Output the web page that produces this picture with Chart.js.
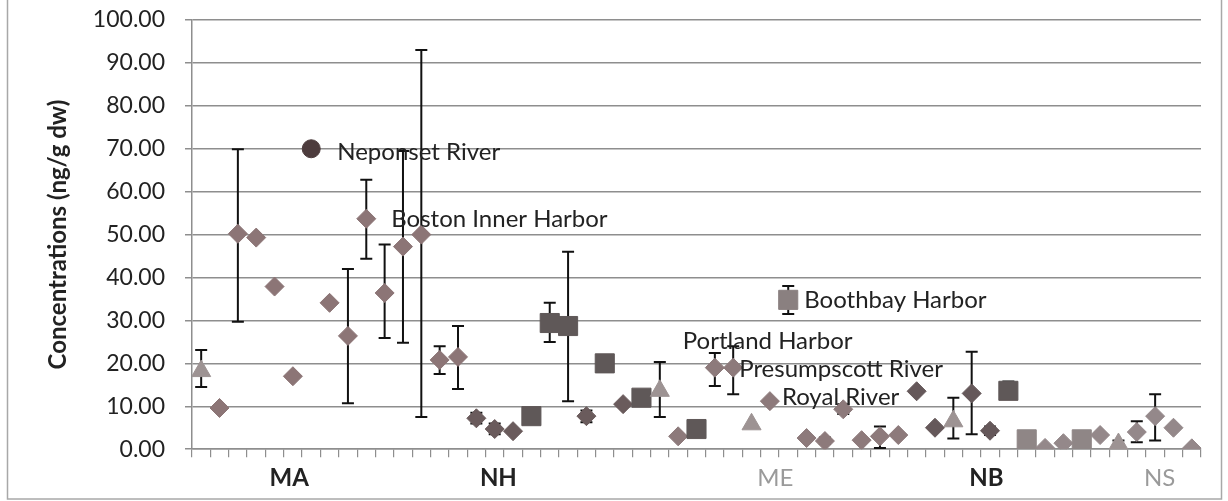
<!DOCTYPE html>
<html>
<head>
<meta charset="utf-8">
<script src="https://cdn.jsdelivr.net/npm/chart.js@4.4.1/dist/chart.umd.min.js"></script>
<style>
  html, body { margin: 0; padding: 0; background: #fff; }
  #wrap { width: 1228px; height: 501px; }
</style>
</head>
<body>
<div id="wrap"><canvas id="chart" width="1228" height="501"></canvas></div>
<script>
// --- data, one entry per sample site, left to right ---
const conc = [18.2, 9.6, 50.2, 49.3, 37.9, 17.0, 70.0, 34.1, 26.4, 53.7,
              36.4, 47.2, 50.0, 20.8, 21.5, 7.2, 4.7, 4.2, 7.7, 29.4,
              28.7, 7.7, 20.0, 10.5, 12.0, 13.6, 3.0, 4.7, 19.0, 19.0,
              5.8, 11.2, 34.8, 2.6, 1.9, 9.3, 2.1, 3.0, 3.3, 13.5,
              5.0, 6.5, 13.0, 4.3, 13.6, 2.3, 0.3, 1.4, 2.3, 3.3,
              1.2, 4.0, 7.7, 5.0, 0.2];
const errLow = [14.5, null, 29.7, null, null, null, null, null, 10.7, 44.4,
                25.9, 24.8, 7.5, 17.5, 14.0, 6.0, 3.5, null, null, 25.0,
                11.2, 6.3, null, null, null, 7.5, null, null, 14.7, 12.8,
                null, null, 31.5, null, 1.2, 8.2, null, 0.3, null, null,
                null, 2.5, 3.5, 3.3, 12.0, null, null, null, null, null,
                0.5, 1.6, 2.0, null, null];
const errHigh = [23.1, null, 69.9, null, null, null, null, null, 42.0, 62.8,
                 47.7, 69.5, 93.0, 24.0, 28.7, 8.5, 6.0, null, null, 34.1,
                 46.0, 9.0, null, null, null, 20.3, null, null, 22.4, 24.0,
                 null, null, 38.0, null, 2.7, 10.5, null, 5.3, null, null,
                 null, 12.0, 22.7, 5.3, 15.8, null, null, null, null, null,
                 2.0, 6.5, 12.8, null, null];
// marker kind: d diamond, s square, t triangle, c circle
const markers = ['t','d','d','d','d','d','c','d','d','d',
                 'd','d','d','d','d','d','d','d','s','s',
                 's','d','s','d','s','t','d','s','d','d',
                 't','d','s','d','d','d','d','d','d','d',
                 'd','t','d','d','s','s','d','d','s','d',
                 't','d','d','d','d'];
const groupNames = ['MA', 'NH', 'ME', 'NB', 'NS'];
const groupPos = [5.8, 17.2, 32.3, 43.8, 53.25];
const siteNames = [
  { i: 7, text: 'Neponset River' },
  { i: 10, text: 'Boston Inner Harbor' },
  { i: 33, text: 'Boothbay Harbor' },
  { i: 29, text: 'Portland Harbor' },
  { i: 30, text: 'Presumpscott River' },
  { i: 32, text: 'Royal River' }
];
const yTicks = [0, 10, 20, 30, 40, 50, 60, 70, 80, 90, 100];

// --- styles ---
const FONT = 'Lato, "Open Sans", sans-serif';
const gridGrey = '#8e8e8e';
const labelOffsets = { 7: [26, 4], 10: [25, 1], 33: [16, 0], 29: [-32, -26], 30: [6, 2], 32: [12, -4] };
const groupStyle = { MA: ['bold', '#222'], NH: ['bold', '#222'], ME: ['normal', '#9a9a9a'], NB: ['bold', '#222'], NS: ['normal', '#9a9a9a'] };

function groupOf(v) {
  const k = groupPos.findIndex(p => Math.abs(p - v) < 0.01);
  return k < 0 ? null : groupNames[k];
}
function groupLook(ctx) {
  const g = ctx.tick ? groupOf(ctx.tick.value) : null;
  return groupStyle[g] || ['bold', '#222'];
}

function shade(i, kind) {
  const n = i + 1;
  if (kind === 'c') return '#4d3c3d';
  if (kind === 's') return n >= 46 ? '#8f8686' : (n === 33 ? '#8a8080' : '#5f5858');
  if (kind === 't') return '#9d9393';
  if (n <= 15) return '#8c7576';
  if (n <= 25) return '#6a5b5c';
  if (n <= 39) return '#8d7a7b';
  if (n <= 44) return '#65585a';
  return '#94888a';
}
const styleMap = { d: 'rectRot', s: 'rect', t: 'triangle', c: 'circle' };
const radiusMap = { d: 9.5, s: 13.5, t: 11, c: 9 };

// error bars, drawn under the markers
const errorBars = {
  id: 'errorBars',
  beforeDatasetsDraw(chart) {
    const { ctx, scales: { x, y } } = chart;
    ctx.save();
    ctx.strokeStyle = '#111';
    ctx.lineWidth = 2;
    conc.forEach((v, i) => {
      if (errLow[i] == null) return;
      const px = x.getPixelForValue(i + 1);
      const y1 = y.getPixelForValue(errLow[i]);
      const y2 = y.getPixelForValue(errHigh[i]);
      ctx.beginPath();
      ctx.moveTo(px, y1); ctx.lineTo(px, y2);
      ctx.moveTo(px - 6, y1); ctx.lineTo(px + 6, y1);
      ctx.moveTo(px - 6, y2); ctx.lineTo(px + 6, y2);
      ctx.stroke();
    });
    ctx.restore();
  }
};

// site name labels next to their points
const siteLabels = {
  id: 'siteLabels',
  afterDatasetsDraw(chart) {
    const { ctx, scales: { x, y } } = chart;
    ctx.save();
    ctx.font = '24px ' + FONT;
    ctx.fillStyle = '#222';
    ctx.textBaseline = 'middle';
    ctx.textAlign = 'left';
    siteNames.forEach(s => {
      const off = labelOffsets[s.i];
      ctx.fillText(s.text, x.getPixelForValue(s.i) + off[0], y.getPixelForValue(conc[s.i - 1]) + off[1]);
    });
    ctx.restore();
  }
};

// outer frame of the chart
const frame = {
  id: 'frame',
  beforeDraw(chart) {
    const { ctx } = chart;
    ctx.save();
    ctx.fillStyle = '#fff';
    ctx.fillRect(0, 0, chart.width, chart.height);
    ctx.strokeStyle = '#a8a8a8';
    ctx.lineWidth = 1.5;
    ctx.strokeRect(7.5, -2, 1214, 501);
    ctx.restore();
  }
};

new Chart(document.getElementById('chart'), {
  type: 'scatter',
  data: {
    datasets: [{
      data: conc.map((v, i) => ({ x: i + 1, y: v })),
      pointStyle: markers.map(m => styleMap[m]),
      pointRadius: markers.map(m => radiusMap[m]),
      backgroundColor: markers.map((m, i) => shade(i, m)),
      borderColor: markers.map((m, i) => shade(i, m)),
      borderWidth: 1
    }]
  },
  options: {
    responsive: false,
    animation: false,
    layout: { padding: { left: 36, right: 27, top: 20, bottom: 1 } },
    plugins: { legend: { display: false }, tooltip: { enabled: false } },
    scales: {
      x: {
        type: 'linear', min: 0.5, max: 55.5, weight: 0,
        afterBuildTicks: s => { s.ticks = conc.map((v, i) => ({ value: i + 0.5 })).concat([{ value: 55.5 }]); },
        ticks: { display: false },
        grid: { drawOnChartArea: false, drawTicks: true, tickLength: 8, color: gridGrey, lineWidth: 1.2 },
        border: { color: gridGrey, width: 1.5 }
      },
      xg: {
        type: 'linear', position: 'bottom', min: 0.5, max: 55.5, weight: 1,
        afterBuildTicks: s => { s.ticks = groupPos.map(p => ({ value: p })); },
        ticks: {
          padding: 7, autoSkip: false, maxRotation: 0,
          callback: v => groupOf(v) || '',
          font: c => ({ family: FONT, size: 24, weight: groupLook(c)[0] }),
          color: c => groupLook(c)[1]
        },
        grid: { display: false, drawTicks: false },
        border: { display: false }
      },
      y: {
        min: 0, max: 100,
        afterBuildTicks: s => { s.ticks = yTicks.map(v => ({ value: v })); },
        afterFit: s => { s.width = 156; s.paddingTop = 0; s.paddingBottom = 0; },
        ticks: {
          padding: 20,
          callback: v => v.toFixed(2),
          font: { family: FONT, size: 23 },
          color: '#222'
        },
        grid: { color: gridGrey, lineWidth: 1.5, tickLength: 7 },
        border: { color: gridGrey, width: 1.5 },
        title: {
          display: true,
          text: 'Concentrations (ng/g dw)',
          font: { family: FONT, size: 24, weight: 'bold' },
          color: '#222',
          padding: { top: 8, bottom: 0 }
        }
      }
    }
  },
  plugins: [frame, errorBars, siteLabels]
});
</script>
</body>
</html>
